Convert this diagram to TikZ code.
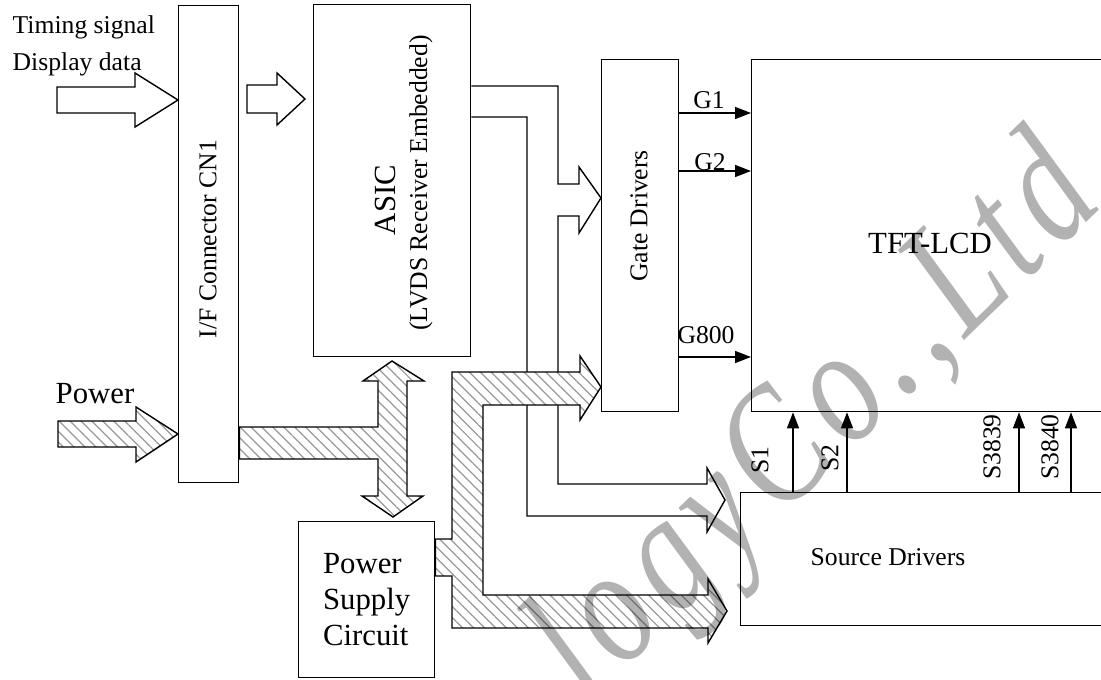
\documentclass[tikz,border=0pt]{standalone}
\usepackage{fontspec}
\setmainfont{Liberation Serif}
\usetikzlibrary{positioning, arrows.meta, patterns.meta}

\newcommand{\smallfnt}{\fontsize{14.6}{17}\selectfont}
\newcommand{\bigfnt}{\fontsize{17.5}{20.5}\selectfont}

\begin{document}
\begin{tikzpicture}[
    x=0.02cm, y=-0.02cm,
    line width=0.8pt,
    blk/.style={draw, fill=white, anchor=north west, inner sep=0pt},
    txt/.style={inner sep=0pt, font=\smallfnt},
    vtxt/.style={txt, rotate=90},
    arr/.style={-{Triangle[length=0.32cm, width=0.24cm]}},
    fat/.style={draw, fill=white, line join=miter},
    hatch/.style={draw, line join=miter, preaction={fill=white},
      pattern={Lines[angle=-45, distance=4.4pt, line width=0.7pt]},
      pattern color=black!40}
  ]
  \useasboundingbox (0,0) rectangle (1101,679);
  \clip (0,0) rectangle (1101,679);

  % blocks
  \node[blk, minimum width=1.2cm, minimum height=9.54cm] (cn1) at (178,5) {};
  \node[blk, minimum width=3.14cm, minimum height=7.04cm] (asic) at (313,4) {};
  \node[blk, minimum width=1.54cm, minimum height=7.04cm] (gate) at (601,59) {};
  \node[blk, minimum width=7.2cm, minimum height=7.04cm] (lcd) at (751,59) {};
  \node[blk, minimum width=7.4cm, minimum height=2.66cm] (src) at (740,492) {};
  \node[blk, minimum width=2.72cm, minimum height=3.12cm, align=left,
    font=\bigfnt] (psc) at (298,521) {Power\\Supply\\Circuit};

  \node[vtxt] (cn1txt) at (208,239) {I/F Connector CN1};
  \node[vtxt, font=\bigfnt] (asictxt) at (385,200) {ASIC};
  \node[vtxt] (lvds) at (421,183) {(LVDS Receiver Embedded)};
  \node[vtxt] (gatetxt) at (639,216) {Gate Drivers};
  \node[txt, font=\bigfnt] (lcdtxt) at (930,243) {TFT-LCD};
  \node[txt, anchor=west] (srctxt) at (810,557) {Source Drivers};

  % inputs
  \node[txt, anchor=base west] (timing) at (12,34) {Timing signal};
  \node[txt, anchor=base west] (disp) at (12,71) {Display data};
  \node[txt, font=\bigfnt, anchor=base west] (pwr) at (55,403) {Power};
  \draw[fat] (57,87) -- (135,87) -- (135,73) -- (cn1.west |- 0,100)
    -- (135,127) -- (135,113) -- (57,113) -- cycle;
  \draw[fat] (247,85) -- (277,85) -- (277,73) -- (305,99)
    -- (277,125) -- (277,113) -- (247,113) -- cycle;
  \draw[hatch] (58,421) -- (136,421) -- (136,407) -- (cn1.west |- 0,434)
    -- (136,462) -- (136,447) -- (58,447) -- cycle;

  % data paths from the ASIC
  \draw (asic.east |- 0,86) -- (558,86) -- (558,184) -- (579,184)
    -- (579,167) -- (gate.west |- 0,198) -- (579,233) -- (579,216)
    -- (558,216) -- (558,484) -- (707,484) -- (707,468) -- (725,500)
    -- (707,532) -- (707,516) -- (527,516) -- (527,117)
    -- (asic.east |- 0,117);

  % power paths
  \draw[hatch] (cn1.east |- 0,427) -- (378,427) -- (378,381) -- (363,381)
    -- (392,361) -- (424,381) -- (407,381) -- (407,496) -- (423,496)
    -- (393,517) -- (362,496) -- (378,496) -- (378,459)
    -- (cn1.east |- 0,459) -- cycle;
  \draw[hatch] (psc.east |- 0,539) -- (452,539) -- (452,372) -- (580,372)
    -- (580,356) -- (gate.west |- 0,387) -- (580,420) -- (580,405)
    -- (483,405) -- (483,595) -- (708,595) -- (708,579) -- (727,611)
    -- (708,643) -- (708,628) -- (452,628) -- (452,576)
    -- (psc.east |- 0,576) -- cycle;

  % gate lines
  \draw[arr] (gate.east |- 0,113) -- (lcd.west |- 0,113);
  \draw[arr] (gate.east |- 0,171) -- (lcd.west |- 0,171);
  \draw[arr] (gate.east |- 0,357) -- (lcd.west |- 0,357);
  \node[txt] (g1) at (709,100) {G1};
  \node[txt] (g2) at (710,162) {G2};
  \node[txt] (g800) at (706,335) {G800};

  % source lines
  \draw[arr] (src.north -| 793,0) -- (lcd.south -| 793,0);
  \draw[arr] (src.north -| 847,0) -- (lcd.south -| 847,0);
  \draw[arr] (src.north -| 1019,0) -- (lcd.south -| 1019,0);
  \draw[arr] (src.north -| 1071,0) -- (lcd.south -| 1071,0);
  \node[vtxt] (s1) at (760,460) {S1};
  \node[vtxt] (s2) at (830,458) {S2};
  \node[vtxt] (s3839) at (992,447) {S3839};
  \node[vtxt] (s3840) at (1050,447) {S3840};

  % watermark
  \node[rotate=44, anchor=base west, inner sep=0pt, text=black,
    text opacity=0.3,
    font=\fontsize{74}{74}\selectfont\itshape\addfontfeature{LetterSpace=8}]
    (wm) at (588,704) {\scalebox{1}[1.3]{logyCo.,Ltd}};
\end{tikzpicture}
\end{document}
